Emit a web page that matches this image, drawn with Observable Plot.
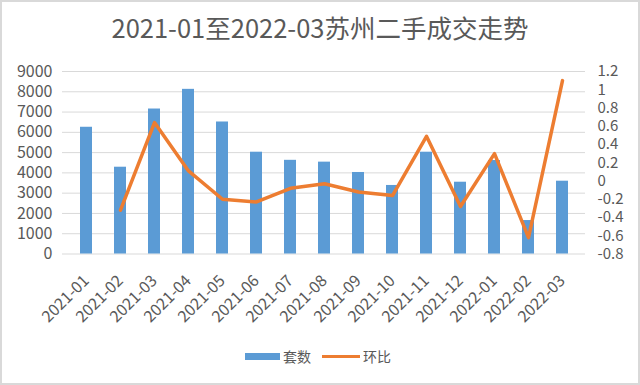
<!DOCTYPE html>
<html>
<head>
<meta charset="utf-8">
<script src="https://cdn.jsdelivr.net/npm/d3@7"></script>
<script src="https://cdn.jsdelivr.net/npm/@observablehq/plot@0.6"></script>
<style>
  body { margin: 0; background: #fff; }
  #wrap { position: relative; width: 640px; height: 385px; overflow: hidden; background: #fff;
    font-family: "Noto Sans CJK SC", "Noto Sans", sans-serif; color: #595959; }
  #frame { position: absolute; left: 0; top: 0; width: 640px; height: 385px; box-sizing: border-box;
    border: 2px solid #d9d9d9; pointer-events: none; }
  #title { position: absolute; left: 0; top: 9px; width: 640px; text-align: center;
    font-size: 25.5px; line-height: 36px; color: #595959; }
  #chart { position: absolute; left: 0; top: 50px; }
  #legend { position: absolute; top: 345px; left: 0; width: 640px; height: 22px; font-size: 14px; line-height: 22px; }
  .sw { position: absolute; }
  .lt { position: absolute; top: 0; }
</style>
</head>
<body>
<div id="wrap">
  <div id="title">2021-01至2022-03苏州二手成交走势</div>
  <div id="chart"></div>
  <div id="legend">
    <div class="sw" style="left:245px;top:8px;width:35px;height:7px;background:#5B9BD5"></div>
    <div class="lt" style="left:283px">套数</div>
    <div class="sw" style="left:322px;top:10px;width:38px;height:3px;background:#ED7D31"></div>
    <div class="lt" style="left:363px">环比</div>
  </div>
  <div id="frame"></div>
</div>
<script>
const months = ["2021-01","2021-02","2021-03","2021-04","2021-05","2021-06","2021-07","2021-08",
  "2021-09","2021-10","2021-11","2021-12","2022-01","2022-02","2022-03"];
const counts = [6250, 4280, 7150, 8120, 6510, 5020, 4620, 4530, 4020, 3380, 5020, 3540, 4610, 1650, 3590];
const ratios = [null, -0.32, 0.64, 0.11, -0.20, -0.23, -0.08, -0.03, -0.12, -0.16, 0.49, -0.28, 0.30, -0.62, 1.10];
const leftTicks = [0, 1000, 2000, 3000, 4000, 5000, 6000, 7000, 8000, 9000];
const rightTicks = [-0.8, -0.6, -0.4, -0.2, 0, 0.2, 0.4, 0.6, 0.8, 1, 1.2];

const table = months.map((m, i) => ({month: m, count: counts[i], ratio: ratios[i]}));
// map the right-axis (环比) domain [-0.8, 1.2] onto the left-axis domain [0, 9000]
const toY = r => (r + 0.8) * 4500;
const rightPos = rightTicks.map(toY);
const rightLabel = new Map(rightPos.map((p, i) => [p, String(rightTicks[i])]));

const chart = Plot.plot({
  width: 640,
  height: 285,
  marginTop: 21,
  marginBottom: 81.5,
  marginLeft: 62,
  marginRight: 55,
  style: {fontFamily: '"Noto Sans CJK SC", "Noto Sans", sans-serif', fontSize: "16px", color: "#595959", background: "transparent"},
  x: {domain: months, paddingInner: 0.655, paddingOuter: 0.3275, label: null},
  y: {domain: [0, 9000], label: null},
  marks: [
    Plot.ruleY(leftTicks, {stroke: "#d9d9d9", strokeWidth: 1}),
    Plot.barY(table, {x: "month", y: "count", fill: "#5B9BD5"}),
    Plot.lineY(table.filter(d => d.ratio != null), {x: "month", y: d => toY(d.ratio), stroke: "#ED7D31",
      strokeWidth: 3.5, strokeLinejoin: "round", strokeLinecap: "round"}),
    Plot.axisY({ticks: leftTicks, tickSize: 0, tickPadding: 10, tickFormat: d => String(d), fontSize: 16, label: null}),
    Plot.axisY({anchor: "right", ticks: rightPos, tickSize: 0, tickPadding: 12, tickFormat: p => rightLabel.get(p), fontSize: 15, label: null}),
    Plot.axisX({tickRotate: -45, tickSize: 0, tickPadding: 24, dx: 0, fontSize: 16, label: null})
  ]
});
document.getElementById("chart").appendChild(chart);
</script>
</body>
</html>
